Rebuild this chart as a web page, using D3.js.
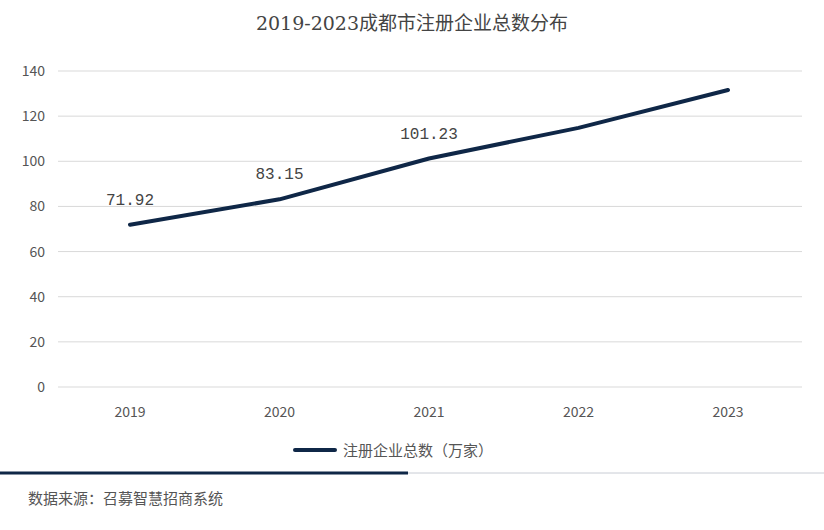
<!DOCTYPE html>
<html><head><meta charset="utf-8">
<script src="https://cdn.jsdelivr.net/npm/d3@7"></script>
<style>body{margin:0;background:#fff}</style>
</head><body>
<script>
const years = ["2019", "2020", "2021", "2022", "2023"];
const values = [71.92, 83.15, 101.23, 114.8, 131.6];
const labels = ["71.92", "83.15", "101.23", null, null];
const yTicks = [0, 20, 40, 60, 80, 100, 120, 140];

const w = 824, h = 530;
const svg = d3.select("body").append("svg").attr("width", w).attr("height", h);
const font = "'Noto Sans CJK SC', sans-serif";
const serif = "'DejaVu Serif', 'Noto Sans CJK SC', serif";
const mono = "'Liberation Mono', monospace";

svg.append("text").attr("x", 412).attr("y", 30).attr("text-anchor", "middle")
   .attr("font-family", serif).attr("font-size", 19).attr("fill", "#444")
   .text("2019-2023成都市注册企业总数分布");

const x = d3.scalePoint().domain(years).range([130, 728]).padding(0);
const y = d3.scaleLinear().domain([0, 140]).range([387, 71]);

svg.selectAll(".grid").data(yTicks).enter().append("line")
   .attr("x1", 58).attr("x2", 802)
   .attr("y1", d => y(d)).attr("y2", d => y(d))
   .attr("stroke", "#d9d9d9").attr("stroke-width", 1);

svg.selectAll(".yl").data(yTicks).enter().append("text")
   .attr("x", 45).attr("y", d => y(d) + 5).attr("text-anchor", "end")
   .attr("font-family", font).attr("font-size", 14).attr("fill", "#555")
   .text(d => d);

svg.selectAll(".xl").data(years).enter().append("text")
   .attr("x", d => x(d)).attr("y", 417).attr("text-anchor", "middle")
   .attr("font-family", font).attr("font-size", 14).attr("fill", "#555")
   .text(d => d);

const line = d3.line().x((d, i) => x(years[i])).y(d => y(d));
svg.append("path").datum(values).attr("d", line)
   .attr("fill", "none").attr("stroke", "#0f2747").attr("stroke-width", 4)
   .attr("stroke-linejoin", "round").attr("stroke-linecap", "round");

years.forEach((yr, i) => {
  if (!labels[i]) return;
  svg.append("text").attr("x", x(yr)).attr("y", y(values[i]) - 20)
     .attr("text-anchor", "middle").attr("font-family", mono)
     .attr("font-size", 16).attr("fill", "#444").text(labels[i]);
});

svg.append("line").attr("x1", 295).attr("x2", 335).attr("y1", 450).attr("y2", 450)
   .attr("stroke", "#0f2747").attr("stroke-width", 4).attr("stroke-linecap", "round");
svg.append("text").attr("x", 343).attr("y", 456)
   .attr("font-family", font).attr("font-size", 15).attr("fill", "#555")
   .text("注册企业总数（万家）");

svg.append("line").attr("x1", 0).attr("x2", 408).attr("y1", 473).attr("y2", 473)
   .attr("stroke", "#0f2747").attr("stroke-width", 3);
svg.append("line").attr("x1", 408).attr("x2", 824).attr("y1", 473).attr("y2", 473)
   .attr("stroke", "#c8ccd4").attr("stroke-width", 1);
svg.append("text").attr("x", 28).attr("y", 504)
   .attr("font-family", font).attr("font-size", 15).attr("fill", "#555")
   .text("数据来源：召募智慧招商系统");
</script>
</body></html>
